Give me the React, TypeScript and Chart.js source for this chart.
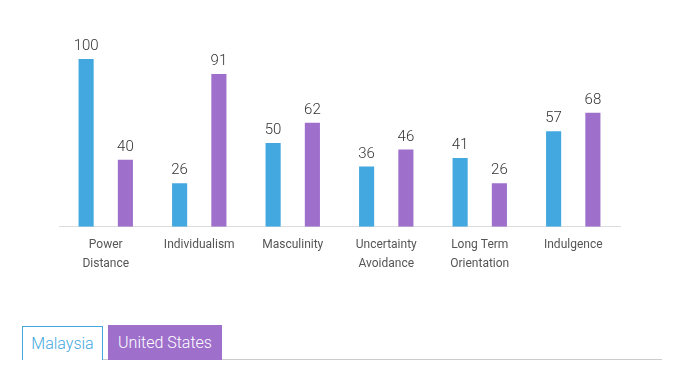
import React, { useEffect, useRef } from "react";
import { Chart, registerables } from "chart.js";

Chart.register(...registerables);

const categories: (string | string[])[] = [
  ["Power", "Distance"],
  "Individualism",
  "Masculinity",
  ["Uncertainty", "Avoidance"],
  ["Long Term", "Orientation"],
  "Indulgence",
];
const malaysia = [100, 26, 50, 36, 41, 57];
const unitedStates = [40, 91, 62, 46, 26, 68];
const seriesNames = ["Malaysia", "United States"];
const colors = ["#44a8e0", "#9e70cc"];

const valueLabels = {
  id: "valueLabels",
  afterDatasetsDraw(chart: any) {
    const ctx = chart.ctx;
    ctx.save();
    ctx.font = "300 15px Roboto, 'DejaVu Sans', sans-serif";
    ctx.fillStyle = "#333";
    ctx.textAlign = "center";
    ctx.textBaseline = "bottom";
    chart.data.datasets.forEach((ds: any, i: number) => {
      const meta = chart.getDatasetMeta(i);
      meta.data.forEach((bar: any, j: number) => {
        ctx.fillText(String(ds.data[j]), bar.x, bar.y - 5);
      });
    });
    ctx.restore();
  },
};

export default function App() {
  const ref = useRef<HTMLCanvasElement | null>(null);
  useEffect(() => {
    if (!ref.current) return;
    const chart = new Chart(ref.current, {
      type: "bar",
      data: {
        labels: categories,
        datasets: [
          { label: seriesNames[0], data: malaysia, backgroundColor: colors[0] },
          { label: seriesNames[1], data: unitedStates, backgroundColor: colors[1] },
        ],
      },
      options: {
        animation: false,
        responsive: true,
        maintainAspectRatio: false,
        layout: { padding: { top: 59, left: 59, right: 57, bottom: 0 } },
        datasets: { bar: { categoryPercentage: 0.84, barPercentage: 0.385 } },
        plugins: { legend: { display: false }, tooltip: { enabled: false } },
        scales: {
          x: {
            grid: { display: false, drawTicks: false },
            border: { display: true, color: "#dddddd" },
            ticks: {
              color: "#555",
              font: { family: "Roboto, sans-serif", size: 12, lineHeight: 1.55 },
              padding: 9,
              maxRotation: 0,
            },
          },
          y: { display: false, min: 0, max: 100 },
        },
      },
      plugins: [valueLabels],
    });
    return () => chart.destroy();
  }, []);

  const tabBase: React.CSSProperties = {
    position: "absolute",
    top: 325,
    height: 35,
    boxSizing: "border-box",
    fontFamily: "Roboto, sans-serif",
    fontWeight: 300,
    fontSize: 16,
    lineHeight: "35px",
    textAlign: "center",
  };

  return (
    <div style={{ position: "absolute", left: 0, top: 0, width: 677, height: 377, background: "#fff" }}>
      <div style={{ position: "absolute", left: 0, top: 0, width: 677, height: 282 }}>
        <canvas ref={ref} />
      </div>
      <div style={{ position: "absolute", left: 22, top: 359, width: 640, height: 1, background: "#cccccc" }} />
      <div
        style={{
          ...tabBase,
          left: 22,
          top: 326,
          width: 81,
          height: 34,
          lineHeight: "33px",
          border: "1px solid " + colors[0],
          borderBottom: "none",
          color: colors[0],
          background: "#fff",
        }}
      >
        {seriesNames[0]}
      </div>
      <div style={{ ...tabBase, left: 108, width: 114, background: colors[1], color: "#fff" }}>
        {seriesNames[1]}
      </div>
    </div>
  );
}
